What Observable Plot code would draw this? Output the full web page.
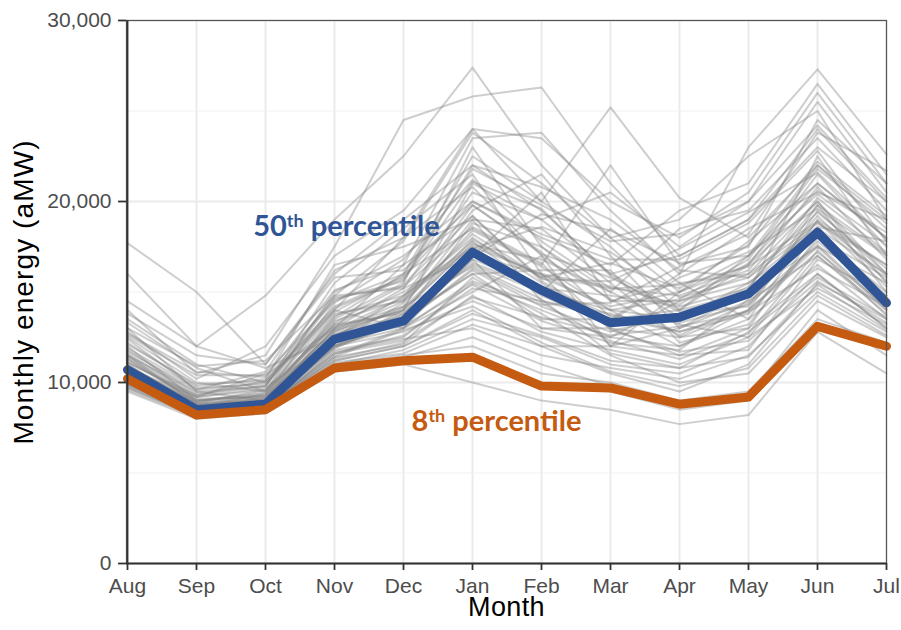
<!DOCTYPE html>
<html>
<head>
<meta charset="utf-8">
<script src="https://cdn.jsdelivr.net/npm/d3@7"></script>
<script src="https://cdn.jsdelivr.net/npm/@observablehq/plot@0.6"></script>
<style>
  html, body { margin: 0; padding: 0; background: white; }
  #chart { width: 901px; height: 630px; }
</style>
</head>
<body>
<div id="chart"></div>
<script>
const months = ["Aug","Sep","Oct","Nov","Dec","Jan","Feb","Mar","Apr","May","Jun","Jul"];
const majorTicks = [0, 10000, 20000, 30000];
const minorTicks = [5000, 15000, 25000];

// 50th and 8th percentile (aMW)
const p50 = [10700, 8500, 8800, 12400, 13400, 17200, 15100, 13300, 13600, 14900, 18300, 14400];
const p08 = [10200, 8200, 8500, 10800, 11200, 11400, 9800, 9700, 8800, 9200, 13100, 12000];

// individual water years (aMW), Aug..Jul
const years = [
  [17700,15000,11000,16000,19000,22000,19500,16000,14000,17000,21000,18000],
  [16000,12000,14800,19000,22500,27400,22000,18000,15000,16500,20000,16000],
  [14000,10500,11500,17500,24500,25800,26300,21000,17000,19000,24000,20000],
  [13500,11000,10000,14000,18000,24000,20000,25200,20200,18000,22000,19000],
  [13000, 9500, 9000,13000,16500,23500,23800,19500,16000,23000,27300,22600],
  [12500,10000, 9500,15000,17000,20000,18000,16500,19500,21000,26500,21500],
  [12000, 9000, 9200,12000,14000,21000,19000,20500,17500,20000,25500,20500],
  [11500, 8800, 9000,13500,15500,23000,17500,15000,18500,19500,23500,19500],
  [11000, 8600, 8800,12800,14500,19500,21500,17000,13000,15000,22500,17000],
  [10800, 9200,10500,14500,16000,18500,16500,22000,16500,17500,24500,21000],
  [10500, 8500, 8700,11500,13000,17000,20500,14500,14500,16000,20000,15500],
  [10300, 8400, 8600,12200,13800,16500,15000,18500,15500,13500,19000,16500],
  [10100, 8300, 8500,11800,12500,15500,14000,12500,12000,14000,17500,14000],
  [ 9800, 8200, 8600,11000,11800,13500,12500,11000,10500,12000,16000,13000],
  [ 9600, 8100, 8400,10800,11200,11500,10000, 9500, 8500, 9000,13000,12000],
  [ 9500, 8000, 8300,10600,11000,10000, 9000, 8500, 7700, 8200,12800,10500],
  [10000, 8400, 8900,12500,14800,18000,15500,13000,11500,13000,18500,14500],
  [10200, 8600, 9400,13200,15000,17500,16000,14000,13500,15500,18000,15000],
  [10400, 8500, 9000,12000,13500,16000,13500,13500,14000,16500,21500,17500],
  [10600, 8700, 8800,11200,12000,14000,12000,10500, 9500,11000,15500,13500],
  [10900, 8900, 9600,14000,13000,15000,17000,12000,13000,14500,17000,14000],
  [11200, 9000, 9300,12600,14200,19000,18500,15500,12500,14000,19500,16000],
  [11800, 9400, 9800,15500,18500,21500,16000,12000,15000,17000,22000,18500],
  [12200, 9800,10200,16500,17500,19000,14500,13500,16000,18500,20500,19000],
  [13300,10800, 9500,13800,14500,17800,15000,14000,12000,13500,16500,13500],
  [14500,12000,10800,12500,13200,16800,13000,12500,14500,15500,18500,16000],
  [10700, 8500, 8700,12300,13500,17200,14800,13200,13500,14800,18200,14300],
  [10000, 8200, 8500,11300,12200,15800,13800,11500,10000,10500,14500,12500],
  [ 9900, 8300, 8400,11000,11500,12000,10500,10000, 9000, 9500,13500,12200],
  [ 9700, 8100, 8500,10900,11400,12500,11000, 9800, 8800, 9300,14000,11500],
  [10800, 8800, 9000,13000,15200,20500,19000,16000,17000,19000,23000,20000],
  [11000, 8700, 8900,12700,13700,18800,17500,14500,15500,16000,18800,16500],
  [11400, 9100, 9200,13600,16000,22500,20000,17500,14000,15000,17500,15500],
  [10500, 8600, 8800,12000,12800,14500,13000,13000,12500,13000,16000,13000],
  [10300, 8400, 8700,11700,12400,13000,11500,10800,10200,11500,15000,12800],
  [10600, 8500, 8600,11400,12100,14800,12800,11800,11000,12500,17000,13800],
  [12800,10200,12000,17000,19500,24000,23500,20000,18000,20500,26000,21000],
  [11600, 9300, 9800,14800,17800,23800,21000,18000,19000,22500,25000,19000],
  [10200, 8300, 8600,12000,13300,16200,14200,12800,13800,14200,19800,15000],
  [10400, 8600, 9100,12900,14000,17600,16800,15000,13200,12500,15200,13200],
  [ 9900, 8200, 8400,11100,11600,13200,12000,12000,11500,11800,16800,14800],
  [11300, 9000, 9400,13400,14600,18200,15800,14200,15000,17800,21000,18000],
  [12400, 9600,10000,14200,15800,20000,18200,16800,16800,18800,22800,17800],
  [10100, 8400, 8600,11600,12600,15200,14500,13800,12800,13800,17800,14600],
  [10700, 8900, 9500,13100,13900,16600,15200,14800,14200,15200,20200,17200],
  [11100, 9200, 9700,12400,13100,15400,13400,12200,11800,14600,19200,15600],
  [10900, 8800, 9300,14400,16800,21200,17800,15200,14800,16200,20800,16800],
  [10000, 8300, 8700,11900,13600,16000,16200,16200,12200,13200,18000,15800],
  [13800,11500,11000,15800,16200,19800,17200,13600,12800,14000,17200,14200],
  [12600,10400,10400,13000,14200,16400,14600,11600,10800,12800,15800,13600],
  [11500, 9500, 9800,14600,15600,22000,20800,19000,16200,15800,18600,17800],
  [10400, 8500, 8900,12200,14400,18400,16400,14000,14600,16800,21800,18800],
  [ 9800, 8200, 8500,11400,12900,14200,12200,10600, 9800,10800,14800,12600],
  [10200, 8400, 8800,13300,15400,19200,15600,13400,15800,17200,19600,17000],
  [11700, 9600,10600,16200,18000,20800,17000,14600,12600,14400,18400,14800],
  [11900, 9700, 9900,13900,15900,21800,19800,17800,18200,20000,24200,20200],
  [10600, 8600, 9200,12600,14100,17900,15800,16600,15200,17600,22200,19200],
  [10300, 8500, 8800,11900,13400,16800,15300,13700,13300,14300,17600,14100],
  [11100, 9300,10100,14700,15300,18600,16600,12900,11700,12300,15600,13300],
  [12700,10600,10300,15100,16500,19200,15700,15600,17400,19400,21600,17900],
  [10500, 8700, 9000,12100,13000,15600,14300,14400,16400,18200,23800,21700],
  [ 9900, 8300, 8600,11600,12300,14700,13600,12600,13100,13900,16300,14200],
  [11300, 8900, 9100,13700,14800,17400,18600,17200,14700,15800,19400,16300],
  [10200, 8400, 8700,12400,13300,16300,14400,12300,11300,12700,17300,13700],
  [13000,10900,11200,14800,15200,17000,16000,15300,14300,16600,20600,18300],
  [10800, 9000, 9300,12900,14700,19800,17100,15800,13900,14900,18900,15300],
  [ 9700, 8200, 8400,11200,12000,13800,12600,11200,10800,11400,15400,12900],
  [11500, 9200, 9600,13200,13800,16900,19300,18400,16600,17000,20400,17600],
  [10900, 8800, 9100,12800,14000,17700,15900,15200,15400,16400,18900,15900],
  [12100, 9900,10100,14100,15700,21100,19600,15900,13600,15300,19800,17100]
];

// percentile labels: base text, superscript, rest, anchor month, value, colour
const labelBase  = ["50", "8"];
const labelSup   = ["th", "th"];
const labelRest  = [" percentile", " percentile"];
const labelMonth = ["Nov", "Jan"];
const labelValue = [18100, 7300];
const labelColor = ["#2F5597", "#C55A11"];

const greyData = years.flatMap((vals, i) => vals.map((v, j) => ({year: i, month: months[j], value: v})));
const p50Data = months.map((m, j) => ({month: m, value: p50[j]}));
const p08Data = months.map((m, j) => ({month: m, value: p08[j]}));
const labels = labelBase.map((b, i) => ({
  base: b, sup: labelSup[i], rest: labelRest[i],
  month: labelMonth[i], value: labelValue[i], color: labelColor[i]
}));

const chart = Plot.plot({
  width: 901,
  height: 630,
  marginLeft: 126,
  marginRight: 15,
  marginTop: 20,
  marginBottom: 67,
  style: {fontFamily: "'Liberation Sans', Arial, sans-serif", background: "white", overflow: "visible"},
  x: {type: "point", domain: months, padding: 0, axis: null},
  y: {domain: [0, 30000], axis: null},
  marks: [
    Plot.ruleY(minorTicks, {stroke: "#f2f2f2", strokeWidth: 1.2}),
    Plot.ruleY(majorTicks, {stroke: "#ebebeb", strokeWidth: 2}),
    Plot.ruleX(months, {stroke: "#ebebeb", strokeWidth: 2}),
    Plot.line(greyData, {x: "month", y: "value", z: "year", stroke: "#858585", strokeOpacity: 0.4, strokeWidth: 2}),
    Plot.line(p50Data, {x: "month", y: "value", stroke: "#2F5597", strokeWidth: 9, strokeLinejoin: "round"}),
    Plot.line(p08Data, {x: "month", y: "value", stroke: "#C55A11", strokeWidth: 9, strokeLinejoin: "round"}),
    Plot.frame({stroke: "#555", strokeWidth: 1.2}),
    Plot.ruleX([months[0]], {stroke: "#333", strokeWidth: 1.8}),
    Plot.ruleY([0], {stroke: "#333", strokeWidth: 1.8}),
    Plot.axisX({ticks: months, tickSize: 7, tickPadding: 8, fontSize: 21, stroke: "#333", strokeWidth: 1.8, fill: "#4d4d4d", label: null}),
    Plot.axisY({ticks: majorTicks, tickFormat: d3.format(","), tickSize: 8, tickPadding: 7, fontSize: 21, stroke: "#333", strokeWidth: 1.8, fill: "#4d4d4d", label: null}),
    Plot.text(["Month"], {frameAnchor: "bottom", dy: 44, fontSize: 27, fill: "black", lineAnchor: "middle", textAnchor: "middle"}),
    Plot.text(["Monthly energy (aMW)"], {frameAnchor: "left", dx: -102, rotate: -90, fontSize: 28, fill: "black", lineAnchor: "middle", textAnchor: "middle"}),
    Plot.text(labels, {
      x: "month", y: "value", fill: "color",
      text: d => d.base + d.sup + d.rest,
      fontFamily: "Lato, 'Open Sans', sans-serif", fontWeight: "bold", fontSize: 29,
      lineAnchor: "bottom", textAnchor: "middle"
    })
  ]
});

document.getElementById("chart").appendChild(chart);

// shift labels and render superscripts
const svg = d3.select(chart);
const shifts = [12, 24];
svg.selectAll("text").each(function() {
  const t = d3.select(this);
  const s = this.textContent;
  if (s === "Monthly energy (aMW)") { t.style("letter-spacing", "1.1px"); return; }
  if (s === "Month") { t.style("letter-spacing", "0.4px"); return; }
  const i = labels.findIndex(d => d.base + d.sup + d.rest === s);
  if (i < 0) return;
  const d = labels[i];
  const tr = t.attr("transform") || "";
  t.attr("transform", tr + ` translate(${shifts[i]},0)`);
  t.text(null);
  t.append("tspan").text(d.base);
  t.append("tspan").attr("font-size", "0.62em").attr("dy", -9).text(d.sup);
  t.append("tspan").attr("dy", 9).text(d.rest);
});
</script>
</body>
</html>
